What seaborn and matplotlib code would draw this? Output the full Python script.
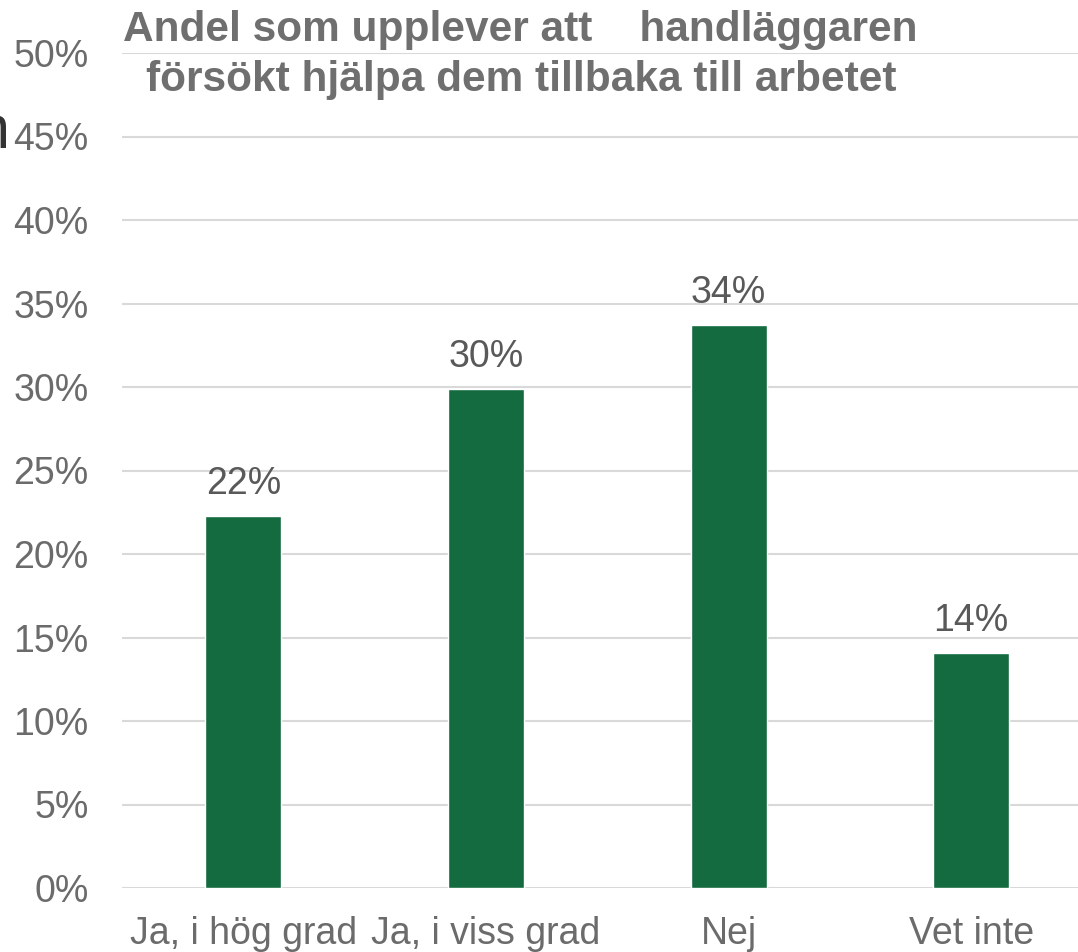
import matplotlib
matplotlib.use("Agg")
import matplotlib.pyplot as plt
import seaborn as sns
import pandas as pd

# data
categories = ["Ja, i hög grad", "Ja, i viss grad", "Nej", "Vet inte"]
values = [22.3, 29.9, 33.7, 14.1]
labels = ["22%", "30%", "34%", "14%"]
yticks = [0, 5, 10, 15, 20, 25, 30, 35, 40, 45, 50]

df = pd.DataFrame({"svar": categories, "andel": values})

sns.set_style("white")
plt.rcParams["font.family"] = ["Liberation Sans", "DejaVu Sans"]

fig = plt.figure(figsize=(10.78, 9.52), dpi=100)
ax = fig.add_axes([122 / 1078, 64 / 952, 956 / 1078, 835 / 952])

sns.barplot(data=df, x="svar", y="andel", color="#136B3F", width=0.314,
            saturation=1, ax=ax, zorder=3)

ax.set_ylim(0, 50)
ax.set_xlim(-0.5, 3.44)
ax.set_yticks(yticks)
ax.set_yticklabels([f"{t}%" for t in yticks])
ax.yaxis.grid(True, color="#d9d9d9", linewidth=1.5, zorder=0)
ax.set_axisbelow(True)
for s in ax.spines.values():
    s.set_visible(False)
ax.tick_params(axis="y", length=0, pad=24, labelsize=27, labelcolor="#6b6b6b")
ax.tick_params(axis="x", length=0, pad=20, labelsize=27, labelcolor="#6b6b6b")
ax.set_xlabel("")
ax.set_ylabel("")

for i, (v, lab) in enumerate(zip(values, labels)):
    ax.annotate(lab, (i, v), xytext=(0, 10), textcoords="offset points",
                ha="center", va="bottom", fontsize=27, color="#595959")

fig.text(520 / 1078, 1 - 30 / 952, "Andel som upplever att    handläggaren",
         ha="center", va="center", fontsize=30.5, fontweight="bold", color="#6f6f6f")
fig.text(521 / 1078, 1 - 80 / 952, "försökt hjälpa dem tillbaka till arbetet",
         ha="center", va="center", fontsize=30.5, fontweight="bold", color="#6f6f6f")

# cut-off glyph at left edge
fig.text(10 / 1078, 1 - 148 / 952, "n", ha="right", va="baseline",
         fontsize=44, color="#333333")

fig.savefig("out.png", dpi=100)
